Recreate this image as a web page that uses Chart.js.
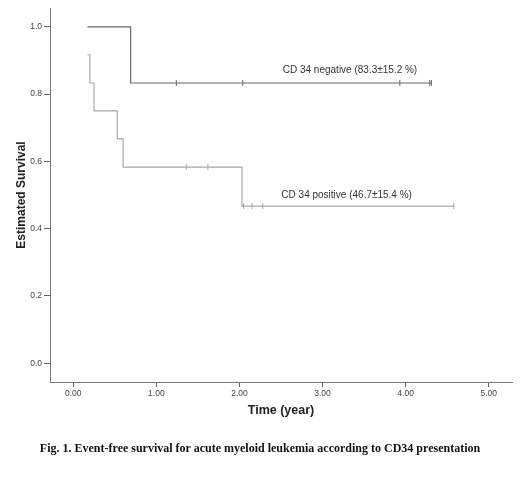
<!DOCTYPE html>
<html lang="en">
  <head>
    <meta charset="UTF-8" />
    <title>Event-free survival - CD34</title>
    <script src="https://cdn.jsdelivr.net/npm/chart.js@4.4.1/dist/chart.umd.min.js"></script>
    <style>
      body { margin: 0; background: #fff; }
      #wrap { position: relative; width: 520px; height: 481px; }
      #caption {
        position: absolute;
        left: 0;
        width: 520px;
        top: 441px;
        text-align: center;
        font: bold 12px "Liberation Serif", "Times New Roman", serif;
        color: #111;
      }
    </style>
  </head>
  <body>
    <div id="wrap">
      <canvas id="kmChart" width="520" height="481"></canvas>
      <div id="caption">Fig. 1. Event-free survival for acute myeloid leukemia according to CD34 presentation</div>
    </div>
    <script>
      // Kaplan-Meier steps (time in years, survival)
      const negTimes = [0.17, 0.69, 4.31];
      const negSurv = [1.0, 0.833, 0.833];
      const negCensorTimes = [1.24, 2.04, 3.93, 4.29, 4.31];
      const negCensorSurv = [0.833, 0.833, 0.833, 0.833, 0.833];

      const posTimes = [0.17, 0.2, 0.25, 0.53, 0.6, 2.03, 4.58];
      const posSurv = [0.917, 0.833, 0.75, 0.667, 0.583, 0.467, 0.467];
      const posCensorTimes = [1.36, 1.62, 2.05, 2.15, 2.28, 4.58];
      const posCensorSurv = [0.583, 0.583, 0.467, 0.467, 0.467, 0.467];

      const xTicks = [0, 1, 2, 3, 4, 5];
      const yTicks = [0, 0.2, 0.4, 0.6, 0.8, 1.0];

      const curveLabels = ["CD 34 negative (83.3\u00b115.2 %)", "CD 34 positive (46.7\u00b115.4 %)"];
      const labelX = [3.33, 3.29];
      const labelY = [0.872, 0.498];

      const negColor = "#666666";
      const posColor = "#a8a8a8";

      function toPoints(xs, ys) {
        return xs.map((x, i) => ({ x: x, y: ys[i] }));
      }

      const curveText = {
        id: "curveText",
        afterDatasetsDraw(chart) {
          const ctx = chart.ctx;
          const xs = chart.scales.x;
          const ys = chart.scales.y;
          ctx.save();
          ctx.font = "10px 'Liberation Sans', Arial, sans-serif";
          ctx.fillStyle = "#333";
          ctx.textAlign = "center";
          ctx.textBaseline = "middle";
          curveLabels.forEach((t, i) => {
            ctx.fillText(t, xs.getPixelForValue(labelX[i]), ys.getPixelForValue(labelY[i]));
          });
          ctx.restore();
        },
      };

      const censorStyle = {
        showLine: false,
        pointStyle: "line",
        rotation: 90,
        pointRadius: 3,
        pointHoverRadius: 3,
        borderWidth: 1,
      };

      new Chart("kmChart", {
        type: "line",
        data: {
          datasets: [
            {
              data: toPoints(negTimes, negSurv),
              stepped: "before",
              borderColor: negColor,
              borderWidth: 1.2,
              pointRadius: 0,
              fill: false,
            },
            {
              data: toPoints(posTimes, posSurv),
              stepped: "before",
              borderColor: posColor,
              borderWidth: 1.2,
              pointRadius: 0,
              fill: false,
            },
            Object.assign({ data: toPoints(negCensorTimes, negCensorSurv), borderColor: negColor }, censorStyle),
            Object.assign({ data: toPoints(posCensorTimes, posCensorSurv), borderColor: posColor }, censorStyle),
          ],
        },
        plugins: [curveText],
        options: {
          responsive: false,
          animation: false,
          layout: { padding: { left: 8, right: 8, top: 8, bottom: 59 } },
          plugins: { legend: { display: false }, tooltip: { enabled: false } },
          scales: {
            x: {
              type: "linear",
              min: -0.28,
              max: 5.28,
              afterBuildTicks: (s) => { s.ticks = xTicks.map((v) => ({ value: v })); },
              afterFit: (s) => { s.height = 40; },
              ticks: {
                callback: (v) => Number(v).toFixed(2),
                font: { size: 8.5, family: "'Liberation Sans', Arial, sans-serif" },
                color: "#444",
                padding: 2,
                maxRotation: 0,
              },
              grid: { drawOnChartArea: false, tickLength: 5, color: "#666" },
              border: { color: "#777", width: 1 },
              title: {
                display: true,
                text: "Time (year)",
                font: { size: 12.5, weight: "bold", family: "'Liberation Sans', Arial, sans-serif" },
                color: "#222",
                padding: { top: 0, bottom: 4 },
              },
            },
            y: {
              type: "linear",
              min: -0.056,
              max: 1.056,
              afterBuildTicks: (s) => { s.ticks = yTicks.map((v) => ({ value: v })); },
              afterFit: (s) => { s.width = 42; },
              ticks: {
                callback: (v) => Number(v).toFixed(1),
                font: { size: 8.5, family: "'Liberation Sans', Arial, sans-serif" },
                color: "#444",
                padding: 2,
              },
              grid: { drawOnChartArea: false, tickLength: 6, color: "#666" },
              border: { color: "#777", width: 1 },
              title: {
                display: true,
                text: "Estimated Survival",
                font: { size: 12, weight: "bold", family: "'Liberation Sans', Arial, sans-serif" },
                color: "#222",
                padding: { top: 6, bottom: 0 },
              },
            },
          },
        },
      });
    </script>
  </body>
</html>
